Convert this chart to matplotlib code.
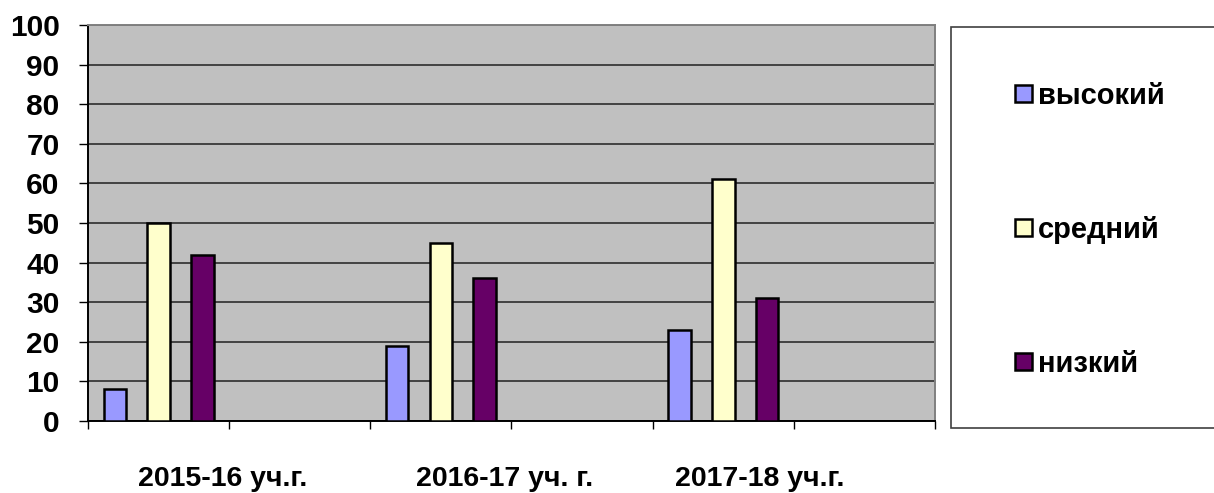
import matplotlib
matplotlib.use('Agg')
import matplotlib.pyplot as plt
from matplotlib.patches import Rectangle, Patch

plt.rcParams['font.family'] = ['Liberation Sans', 'DejaVu Sans']
plt.rcParams['font.weight'] = 'bold'

# data
years = ['2015-16 уч.г.', '2016-17 уч. г.', '2017-18 уч.г.']
series = ['высокий', 'средний', 'низкий']
vysokiy = [8, 19, 23]
sredniy = [50, 45, 61]
nizkiy = [42, 36, 31]
colors = ['#9999FF', '#FFFFCC', '#660066']

fig = plt.figure(figsize=(12.14, 4.93), dpi=100)
ax = fig.add_axes([88 / 1214, 72 / 493, 847 / 1214, 396 / 493])
ax.set_facecolor('#C0C0C0')

# bars sit in every second of 6 category slots
bar_w = 0.16
step = 0.31
for k, (vals, col) in enumerate(zip([vysokiy, sredniy, nizkiy], colors)):
    xs = [2 * i + 0.5 + (k - 1) * step for i in range(len(vals))]
    ax.bar(xs, vals, width=bar_w, color=col, edgecolor='black', linewidth=1.8, zorder=3)

ax.set_xlim(0, 6)
ax.set_ylim(0, 100)
ax.set_yticks(range(0, 101, 10))
ax.set_xticks(range(0, 7))
ax.set_xticklabels([])
ax.yaxis.grid(True, color='#202020', linewidth=1.1, zorder=1)
ax.tick_params(axis='y', length=6.5, width=1, pad=14, labelsize=21.5)
ax.tick_params(axis='x', length=6, width=1)
for lbl in ax.get_yticklabels():
    lbl.set_fontweight('bold')

ax.spines['left'].set_color('black')
ax.spines['bottom'].set_color('black')
ax.spines['top'].set_color('#808080')
ax.spines['right'].set_color('#808080')
for s in ax.spines.values():
    s.set_linewidth(1.4)

# category labels sit as free text boxes, not centred on the groups
label_x = [0.955, 2.95, 4.76]
for x, name in zip(label_x, years):
    ax.text(x, -0.147, name, transform=ax.get_xaxis_transform(),
            ha='center', va='center', fontsize=20.5, fontweight='bold')

# legend box
fig.patches.append(Rectangle((951 / 1214, 65 / 493), 270 / 1214, 401 / 493,
                             transform=fig.transFigure, facecolor='white',
                             edgecolor='#404040', linewidth=1.2))
handles = [Patch(facecolor=c, edgecolor='black', linewidth=1.8) for c in colors]
fig.legend(handles, series, loc='center left', bbox_to_anchor=(1015 / 1214, 263 / 493),
           frameon=False, labelspacing=3.64, handlelength=0.58, borderpad=0,
           borderaxespad=0, handleheight=0.52, handletextpad=0.2,
           prop={'weight': 'bold', 'size': 21})

fig.savefig('out.png', dpi=100)
